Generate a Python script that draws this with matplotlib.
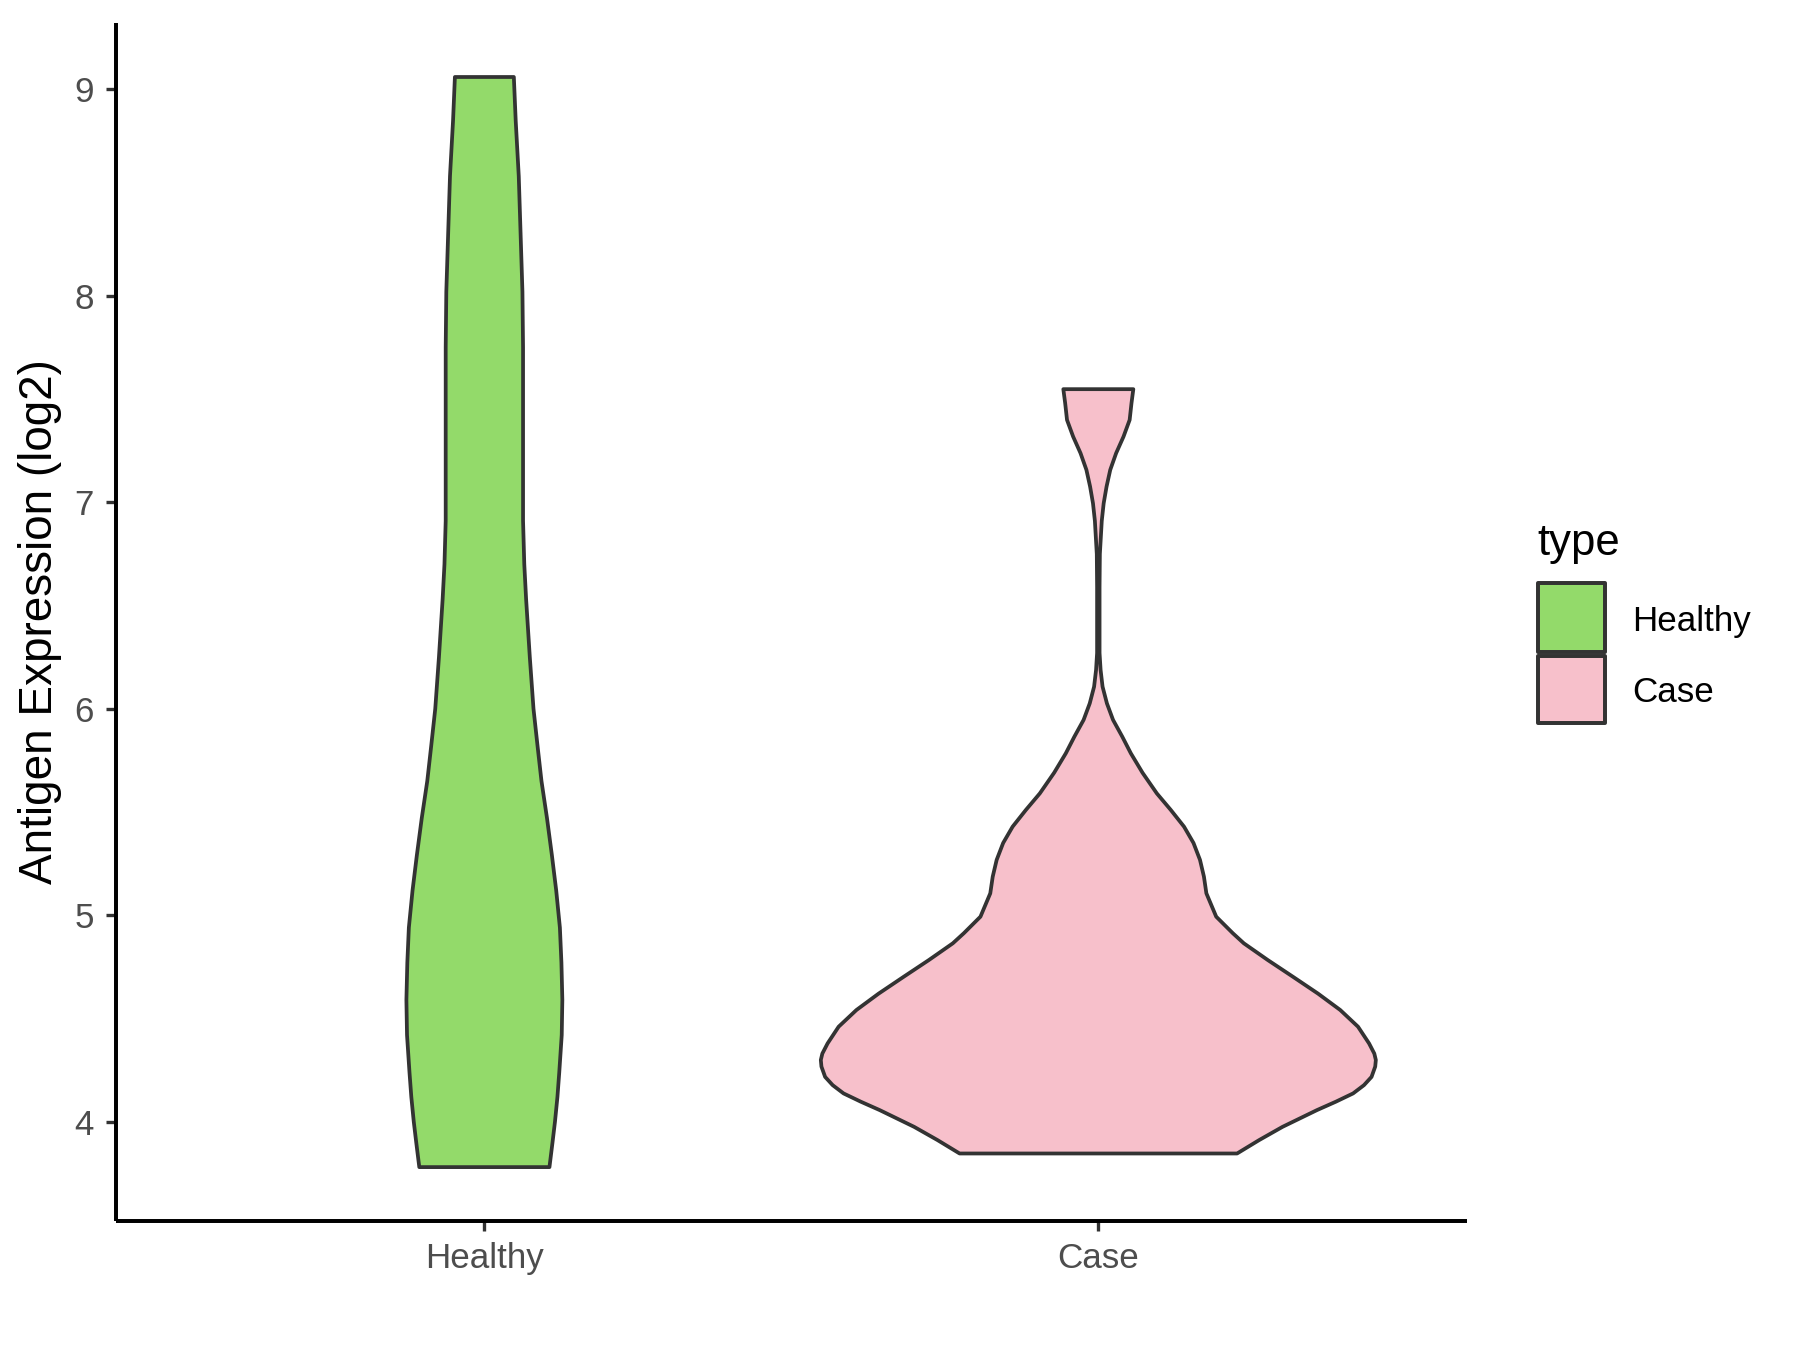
import numpy as np
import matplotlib
matplotlib.use("Agg")
import matplotlib.pyplot as plt
from matplotlib.patches import Rectangle

plt.rcParams['font.family'] = ['Liberation Sans', 'DejaVu Sans']

# --- data ---
groups = ["Healthy", "Case"]
colors = ["#93DA6A", "#F7C0CB"]

# violin outline: expression value (log2) and half-width (x units)
healthy_y = [3.78, 3.90, 4.00, 4.12, 4.24, 4.42, 4.59, 4.77, 4.94, 5.12, 5.29, 5.47, 5.65,
             5.82, 6.00, 6.25, 6.53, 6.70, 6.91, 7.20, 7.47, 7.75, 8.02, 8.30, 8.58, 8.85, 9.06]
healthy_w = [0.106, 0.111, 0.115, 0.119, 0.122, 0.126, 0.127, 0.1255, 0.123, 0.117, 0.110, 0.102, 0.093,
             0.0866, 0.080, 0.074, 0.068, 0.065, 0.063, 0.063, 0.063, 0.063, 0.062, 0.059, 0.056, 0.051, 0.048]

case_y = [3.846, 3.911, 3.975, 4.056, 4.097, 4.137, 4.177, 4.217, 4.267, 4.299, 4.33, 4.379,
          4.46, 4.541, 4.62, 4.702, 4.783, 4.864, 4.913, 4.993, 5.106, 5.187, 5.268, 5.35,
          5.429, 5.51, 5.59, 5.69, 5.784, 5.865, 5.946, 6.026, 6.107, 6.188, 6.27, 6.43,
          6.59, 6.75, 6.91, 6.995, 7.076, 7.157, 7.238, 7.318, 7.399, 7.48, 7.548]
case_w = [0.226, 0.262, 0.300, 0.356, 0.387, 0.415, 0.4327, 0.445, 0.451, 0.452, 0.4495, 0.441,
          0.423, 0.394, 0.358, 0.317, 0.276, 0.237, 0.219, 0.192, 0.176, 0.172, 0.1656, 0.155,
          0.1396, 0.118, 0.0953, 0.072, 0.053, 0.039, 0.024, 0.014, 0.0069, 0.0037, 0.002, 0.002,
          0.002, 0.0025, 0.0056, 0.0087, 0.0134, 0.0194, 0.029, 0.041, 0.051, 0.054, 0.057]

profiles = [(healthy_y, healthy_w), (case_y, case_w)]

fig = plt.figure(figsize=(12, 9), dpi=150)
ax = fig.add_axes([116/1800, 1-1221/1350, (1466.7-116)/1800, (1221-22.7)/1350])

for i, (vy, vw) in enumerate(profiles):
    pos = i + 1
    vy = np.array(vy); vw = np.array(vw)
    xs = np.concatenate([pos - vw, (pos + vw)[::-1]])
    ys = np.concatenate([vy, vy[::-1]])
    ax.fill(xs, ys, facecolor=colors[i], edgecolor="#333333", lw=1.8, joinstyle="round", zorder=2)

ax.set_xlim(0.4, 2.6)
ax.set_ylim(3.519, 9.323)
ax.set_xticks([1, 2])
ax.set_xticklabels(groups)
ax.set_yticks([4, 5, 6, 7, 8, 9])
for s in ["top", "right"]:
    ax.spines[s].set_visible(False)
for s in ["left", "bottom"]:
    ax.spines[s].set_linewidth(1.9)
    ax.spines[s].set_color("black")
    ax.spines[s].set_capstyle("butt")
ax.tick_params(length=4.8, width=1.6, color="#333333", labelcolor="#4D4D4D", labelsize=16.8)
ax.tick_params(axis="y", pad=5.8)
ax.tick_params(axis="x", pad=5.3)

ax.set_ylabel("Antigen Expression (log2)", fontsize=22, color="black", va="center")
ax.yaxis.set_label_coords((40-116)/1350.7, 0.5)

# legend
fig.text(1537/1800, 1-555/1350, "type", fontsize=21, va="baseline", ha="left")
box_y = [(583, 652), (656, 723)]
label_base = [630.7, 701.7]
for i, g in enumerate(groups):
    y0, y1 = box_y[i]
    fig.add_artist(Rectangle((1538/1800, 1-y1/1350), 67/1800, (y1-y0)/1350,
                             transform=fig.transFigure, facecolor=colors[i],
                             edgecolor="#333333", lw=1.9, joinstyle="round"))
    fig.text(1632/1800, 1-label_base[i]/1350, g, fontsize=16.8, va="baseline", ha="left")

fig.savefig("out.png", dpi=150, facecolor="white")
